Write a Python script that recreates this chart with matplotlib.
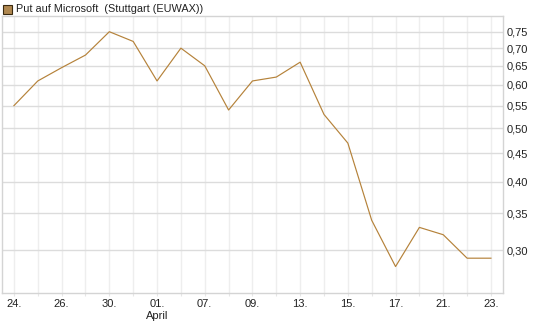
import matplotlib.pyplot as plt
from matplotlib.ticker import FixedLocator, NullLocator

plt.rcParams["font.family"] = ["Liberation Sans", "DejaVu Sans"]

# values (one per trading day)
prices = [0.55, 0.61, 0.645, 0.68, 0.75, 0.72, 0.61, 0.70, 0.65, 0.54, 0.61,
          0.62, 0.66, 0.53, 0.47, 0.34, 0.28, 0.33, 0.32, 0.29, 0.29]
date_labels = ["24.", "26.", "30.", "01.", "07.", "09.", "13.", "15.", "17.", "21.", "23."]
y_ticks = [0.30, 0.35, 0.40, 0.45, 0.50, 0.55, 0.60, 0.65, 0.70, 0.75]
title = "Put auf Microsoft  (Stuttgart (EUWAX))"

line_color = "#b5823a"

fig = plt.figure(figsize=(5.45, 3.27), dpi=100)
ax = fig.add_axes([0.0037, 0.104, 0.919, 0.847])

x = list(range(len(prices)))
ax.plot(x, prices, color=line_color, linewidth=0.85)

ax.set_yscale("log")
ax.set_ylim(0.2506, 0.801)
ax.set_xlim(-0.5, len(prices) - 0.5)

ax.yaxis.set_major_locator(FixedLocator(y_ticks))
ax.yaxis.set_minor_locator(NullLocator())
ax.set_yticklabels([f"{v:.2f}".replace(".", ",") for v in y_ticks])
ax.yaxis.tick_right()
ax.tick_params(axis="y", length=0, pad=3, labelsize=8, labelcolor="#222222")

ax.set_xticks(x)
ax.set_xticklabels([date_labels[i // 2] if i % 2 == 0 else "" for i in x])
ax.tick_params(axis="x", length=2, color="#e6e6e6", pad=2, labelsize=8, labelcolor="#222222")

ax.grid(axis="y", color="#dcdcdc", linewidth=1.0)
ax.grid(axis="x", color="#eeeeee", linewidth=1.0)
ax.set_axisbelow(True)
for s in ax.spines.values():
    s.set_color("#d4d4d4")
    s.set_linewidth(1.0)

ax.text(6, -0.083, "April", transform=ax.get_xaxis_transform(), ha="center", va="center",
        fontsize=8, color="#222222")

# legend box
fig.patches.append(plt.Rectangle((3 / 545, 1 - 14 / 327), 9 / 545, 9 / 327,
                                 transform=fig.transFigure, facecolor="#b08850",
                                 edgecolor="#3a2a10", linewidth=0.8))
fig.text(16 / 545, 1 - 9.5 / 327, title, ha="left", va="center", fontsize=7.8, color="#222222")

fig.savefig("out.png", dpi=100)
